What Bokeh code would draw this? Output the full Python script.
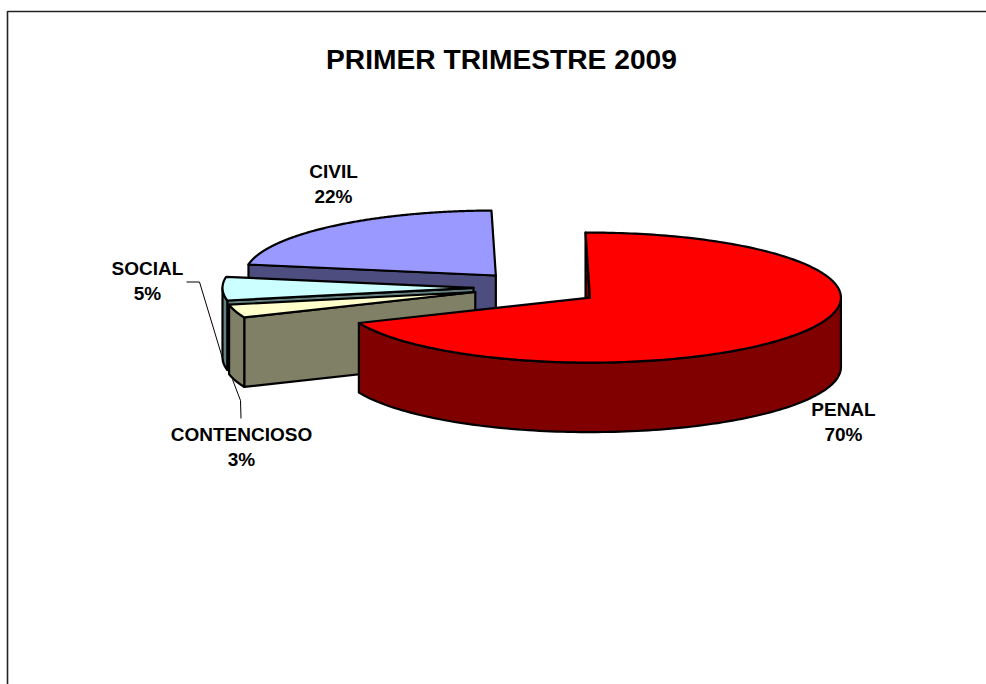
import numpy as np
from bokeh.plotting import figure
from bokeh.embed import file_html
from bokeh.resources import INLINE
from bokeh.core.properties import value

title = "PRIMER TRIMESTRE 2009"
categories = ["PENAL", "CONTENCIOSO", "SOCIAL", "CIVIL"]
shares = [70, 3, 5, 22]
top_colors = ["#FF0000", "#FFFFCC", "#CCFFFF", "#9999FF"]
side_colors = ["#800000", "#808066", "#668080", "#4D4D80"]
draw_order = [3, 2, 1, 0]

# projection of the tilted pie, in page pixels
CX, CY, RX, RY, DEPTH, EXPLODE, START = 537.0, 287.6, 251, 65, 69.5, 0.255, -1.0
# the source's perspective squeezes the front left of the pie a little
WARP_IN = [-1, 251, 262, 280, 359]
WARP_OUT = [-1, 247, 259, 280, 359]

FONT = value("Liberation Sans")
p = figure(width=986, height=684, x_range=(0, 986), y_range=(684, 0),
           output_backend="svg", toolbar_location=None, min_border=0,
           outline_line_color=None, background_fill_color="white")
p.xaxis.visible = False
p.yaxis.visible = False
p.grid.visible = False

# chart frame (right and bottom edges fall outside the picture)
p.line([7, 7, 986], [684, 11, 11], line_color="#222222", line_width=1.6)


def pt(ax, ay, t, down=0.0):
    a = np.radians(t)
    return ax + RX * np.sin(a), ay - RY * np.cos(a) + down


edges = START + np.concatenate([[0], np.cumsum(shares)]) * 3.6
for i in draw_order:
    s_raw, e_raw = edges[i], edges[i + 1]
    mid = np.radians((s_raw + e_raw) / 2)
    ax = CX + EXPLODE * RX * np.sin(mid)
    ay = CY - EXPLODE * RY * np.cos(mid)
    s, e = np.interp([s_raw, e_raw], WARP_IN, WARP_OUT)

    polys = []
    # radial faces turned towards the viewer
    for t, visible in ((s, np.sin(np.radians(s)) < 0), (e, np.sin(np.radians(e)) > 0)):
        if visible:
            ox, oy = pt(ax, ay, t)
            polys.append(([ax, ox, ox, ax], [ay, oy, oy + DEPTH, ay + DEPTH]))
    # outer wall, front half only
    w0, w1 = max(s, 90), min(e, 270)
    if w1 > w0:
        ts = np.linspace(w0, w1, 120)
        tx, ty = pt(ax, ay, ts)
        polys.append((list(tx) + list(tx[::-1]), list(ty) + list(ty[::-1] + DEPTH)))
    for xs, ys in polys:
        p.patch(xs, ys, fill_color=side_colors[i], line_color="black", line_width=2.2,
                line_join="round")
    # top face
    ts = np.linspace(s, e, 240)
    tx, ty = pt(ax, ay, ts)
    p.patch([ax] + list(tx), [ay] + list(ty), fill_color=top_colors[i], line_color="black",
            line_width=2.2, line_join="round")

# leader lines
p.line([186, 199, 223], [281.5, 281.5, 361], line_color="black", line_width=1)
p.line([240.5, 240, 232], [418, 400, 379], line_color="black", line_width=1)

# texts
label_pos = {"PENAL": (843, 408.5), "CONTENCIOSO": (241, 433.5), "SOCIAL": (147, 267.5), "CIVIL": (333, 170.5)}
tx, ty, tt = [], [], []
for c, v in zip(categories, shares):
    x, y = label_pos[c]
    tx += [x, x]
    ty += [y, y + 25]
    tt += [c, f"{v}%"]
p.text(tx, ty, text=tt, text_font=FONT, text_font_style="bold", text_font_size="19px",
       text_align="center", text_baseline="middle", text_color="black")
p.text([501], [58.5], text=[title], text_font=FONT, text_font_style="bold", text_font_size="28.2px",
       text_align="center", text_baseline="middle", text_color="black")

open("out.html", "w").write(file_html(p, INLINE))
